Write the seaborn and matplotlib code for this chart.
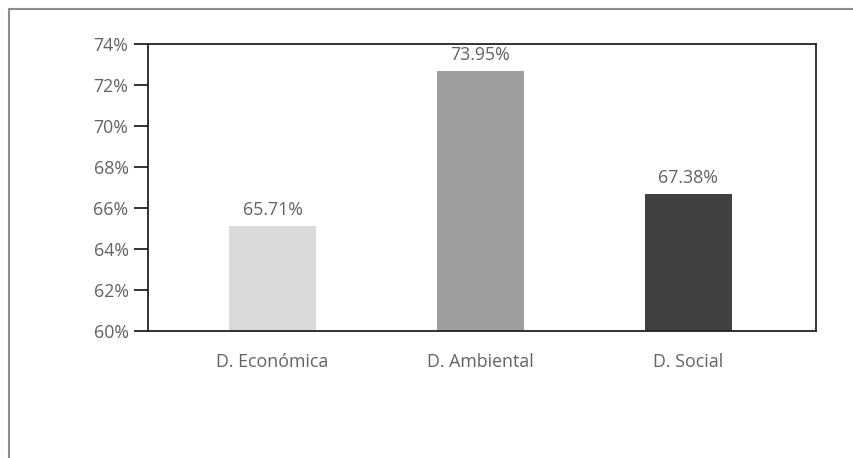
import matplotlib
matplotlib.use("Agg")
import matplotlib.pyplot as plt
import seaborn as sns
import pandas as pd
from matplotlib.lines import Line2D

categories = ["D. Económica", "D. Ambiental", "D. Social"]
bar_values = [65.13, 72.70, 66.69]
bar_labels = ["65.71%", "73.95%", "67.38%"]
bar_colors = ["#d9dadc", "#9d9ea0", "#404042"]
yticks = [60, 62, 64, 66, 68, 70, 72, 74]

sns.set_style("white")
plt.rcParams["font.family"] = ["Open Sans", "DejaVu Sans"]

df = pd.DataFrame({"cat": categories, "val": bar_values})

fig = plt.figure(figsize=(8.54, 4.58), dpi=100)
ax = fig.add_axes([148 / 854, 1 - 331 / 458, (816 - 148) / 854, (331 - 44) / 458])

sns.barplot(data=df, x="cat", y="val", hue="cat", palette=bar_colors,
            width=0.42, ax=ax, legend=False, saturation=1, bottom=0)

ax.set_ylim(60, 74)
ax.set_xlim(-0.6, 2.615)
ax.set_yticks(yticks)
ax.set_yticklabels([f"{t}%" for t in yticks])
ax.set_xlabel("")
ax.set_ylabel("")

txt_color = "#626262"
fs = 12.8
ax.tick_params(axis="y", which="major", direction="out", length=10, width=1.3,
               color="#222222", labelsize=fs, labelcolor=txt_color, pad=4, left=True)
ax.tick_params(axis="x", length=0, labelsize=fs, labelcolor=txt_color, pad=16)

for s in ax.spines.values():
    s.set_visible(True)
    s.set_color("#222222")
    s.set_linewidth(1.3)

for cont in ax.containers:
    for patch in cont:
        patch.set_edgecolor("none")

for i, (v, lab) in enumerate(zip(bar_values, bar_labels)):
    ax.annotate(lab, xy=(i, v), xytext=(0, 8), textcoords="offset points",
                ha="center", va="baseline", fontsize=fs, color=txt_color)

frame = Line2D([9.5 / 854, 9.5 / 854, 1.0], [0.0, 1 - 9 / 458, 1 - 9 / 458],
               transform=fig.transFigure, color="#8c8c8c", linewidth=1.5)
fig.add_artist(frame)

fig.savefig("out.png", dpi=100)
